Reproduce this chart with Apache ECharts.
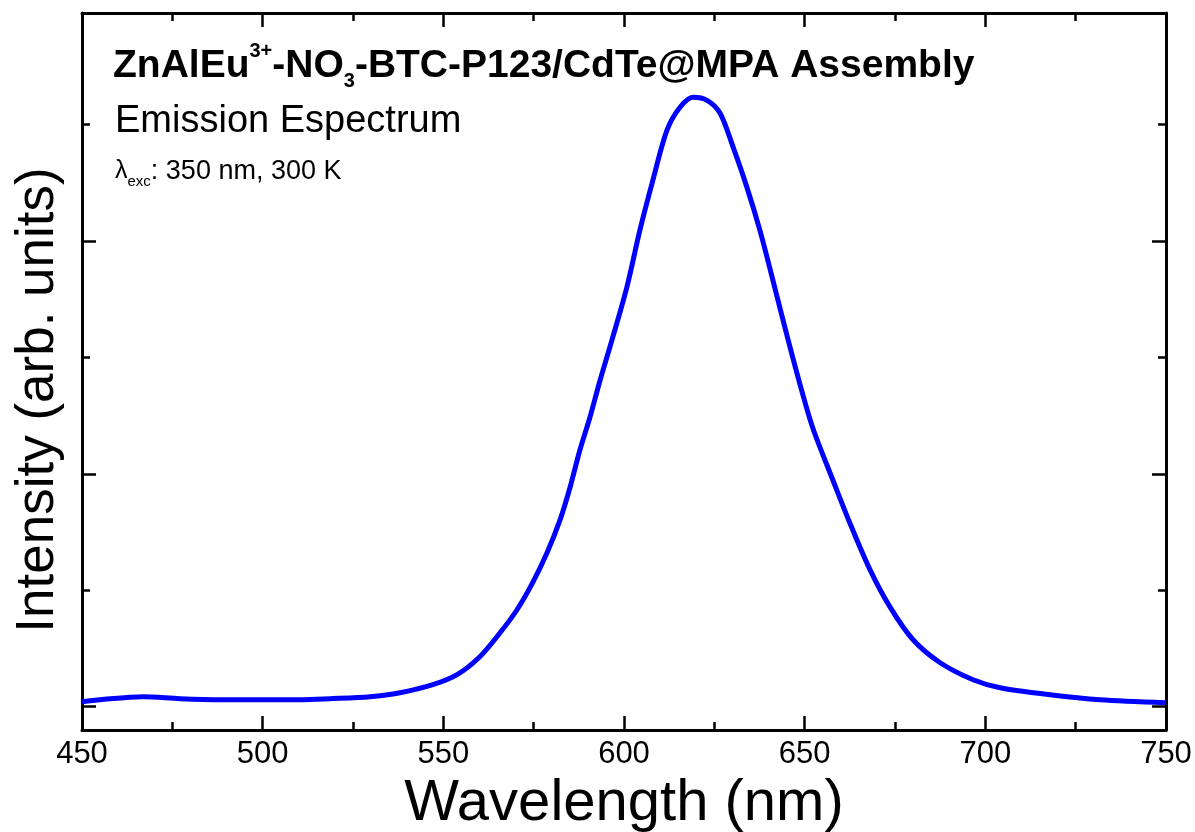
<!DOCTYPE html>
<html>
<head>
<meta charset="utf-8">
<title>Emission Spectrum</title>
<script src="https://cdn.jsdelivr.net/npm/echarts@6/dist/echarts.min.js"></script>
<style>
  html, body { margin: 0; padding: 0; background: #fff; }
  #chart { width: 1195px; height: 832px; }
</style>
</head>
<body>
<div id="chart"></div>
<script>
// wavelength (nm)
const wavelength = [450, 455, 466.9, 477.1, 488.2, 499.3, 510.3, 518.6, 529.7, 538, 547.1, 553.8,
  560.1, 565.7, 570.4, 574.8, 578.7, 582.3, 585.1, 587.8, 590.6, 593.4, 596.1, 600.8, 604.4, 608,
  611.9, 615.5, 619.1, 623, 626.6, 630.2, 634, 637.6, 641.2, 645.1, 648.7, 652.3, 657.8, 662.5,
  668.1, 673.6, 680, 687.5, 696.6, 704.1, 717.9, 731.7, 750]
// intensity (arb. units)
const intensity = [0.043, 0.06, 0.086, 0.069, 0.06, 0.06, 0.06, 0.069, 0.086, 0.12, 0.189, 0.275,
  0.429, 0.635, 0.833, 1.07, 1.322, 1.605, 1.888, 2.206, 2.489, 2.807, 3.09, 3.605, 4.094, 4.524,
  4.953, 5.15, 5.236, 5.21, 5.099, 4.807, 4.464, 4.094, 3.665, 3.19, 2.77, 2.39, 1.948, 1.579,
  1.176, 0.858, 0.575, 0.378, 0.232, 0.163, 0.103, 0.06, 0.034]
const majorY = [0, 2, 4]
const minorY = [1, 3, 5]

const font = 'Liberation Sans, Arial, sans-serif'
const chart = echarts.init(document.getElementById('chart'))

const lineCfg = { show: true, onZero: false, lineStyle: { color: '#000', width: 3 } }
function yAx(pos, ticks, len, showLine) {
  return {
    type: 'value',
    position: pos,
    min: -0.2,
    max: 5.96,
    axisLine: showLine ? lineCfg : { show: false, onZero: false },
    axisTick: { show: true, inside: true, length: len, customValues: ticks,
      lineStyle: { color: '#000', width: 2.5 } },
    axisLabel: { show: false },
    splitLine: { show: false },
  }
}
function xAx(pos, labels) {
  return {
    type: 'value',
    position: pos,
    min: 450,
    max: 750,
    interval: 50,
    axisLine: lineCfg,
    axisTick: { show: true, inside: true, length: 14, lineStyle: { color: '#000', width: 2.5 } },
    minorTick: { show: true, splitNumber: 2, length: 8, lineStyle: { color: '#000', width: 2.5 } },
    axisLabel: { show: labels, color: '#000', fontSize: 31, fontFamily: font, margin: 9 },
    splitLine: { show: false },
    minorSplitLine: { show: false },
  }
}

const xBottom = xAx('bottom', true)
xBottom.name = 'Wavelength (nm)'
xBottom.nameLocation = 'middle'
xBottom.nameGap = 34
xBottom.nameTextStyle = { color: '#000', fontSize: 58, fontFamily: font }

const option = {
  backgroundColor: '#fff',
  animation: false,
  grid: { left: 82, right: 29, top: 13, bottom: 102, outerBoundsMode: 'none' },
  xAxis: [xBottom, xAx('top', false)],
  yAxis: [
    yAx('left', majorY, 14, true),
    yAx('left', minorY, 8, false),
    yAx('right', majorY, 14, true),
    yAx('right', minorY, 8, false),
  ],
  graphic: [
    {
      type: 'text', left: 113, top: 41,
      style: {
        text: '{b|ZnAlEu}{sup|3+}{b|-NO}{sub|3}{b|-BTC-P123/CdTe@MPA Assembly}',
        fill: '#000',
        rich: {
          b: { fontSize: 39, fontWeight: 'bold', fontFamily: font, lineHeight: 50 },
          sup: { fontSize: 20, fontWeight: 'bold', fontFamily: font, lineHeight: 20, verticalAlign: 'top' },
          sub: { fontSize: 20, fontWeight: 'bold', fontFamily: font, lineHeight: 20, verticalAlign: 'bottom' },
        },
      },
    },
    {
      type: 'text', left: 115, top: 103,
      style: { text: 'Emission Espectrum', fill: '#000', fontSize: 38, fontFamily: font },
    },
    {
      type: 'text', left: 115, top: 158,
      style: {
        text: '{l|λ}{s|exc}{t|: 350 nm, 300 K}',
        fill: '#000',
        rich: {
          l: { fontSize: 25, fontFamily: font, lineHeight: 36 },
          s: { fontSize: 15, fontFamily: font, lineHeight: 15, verticalAlign: 'bottom' },
          t: { fontSize: 27, fontFamily: font, lineHeight: 36 },
        },
      },
    },
    {
      type: 'text', x: 38, y: 400, rotation: Math.PI / 2,
      style: {
        text: 'Intensity (arb. units)', fill: '#000', fontSize: 53, fontFamily: font,
        align: 'center', verticalAlign: 'middle',
      },
    },
  ],
  series: [
    {
      type: 'line',
      xAxisIndex: 0,
      yAxisIndex: 0,
      data: wavelength.map((w, i) => [w, intensity[i]]),
      showSymbol: false,
      smooth: 0.3,
      lineStyle: { color: '#0000ff', width: 5 },
    },
  ],
}
chart.setOption(option)
</script>
</body>
</html>
